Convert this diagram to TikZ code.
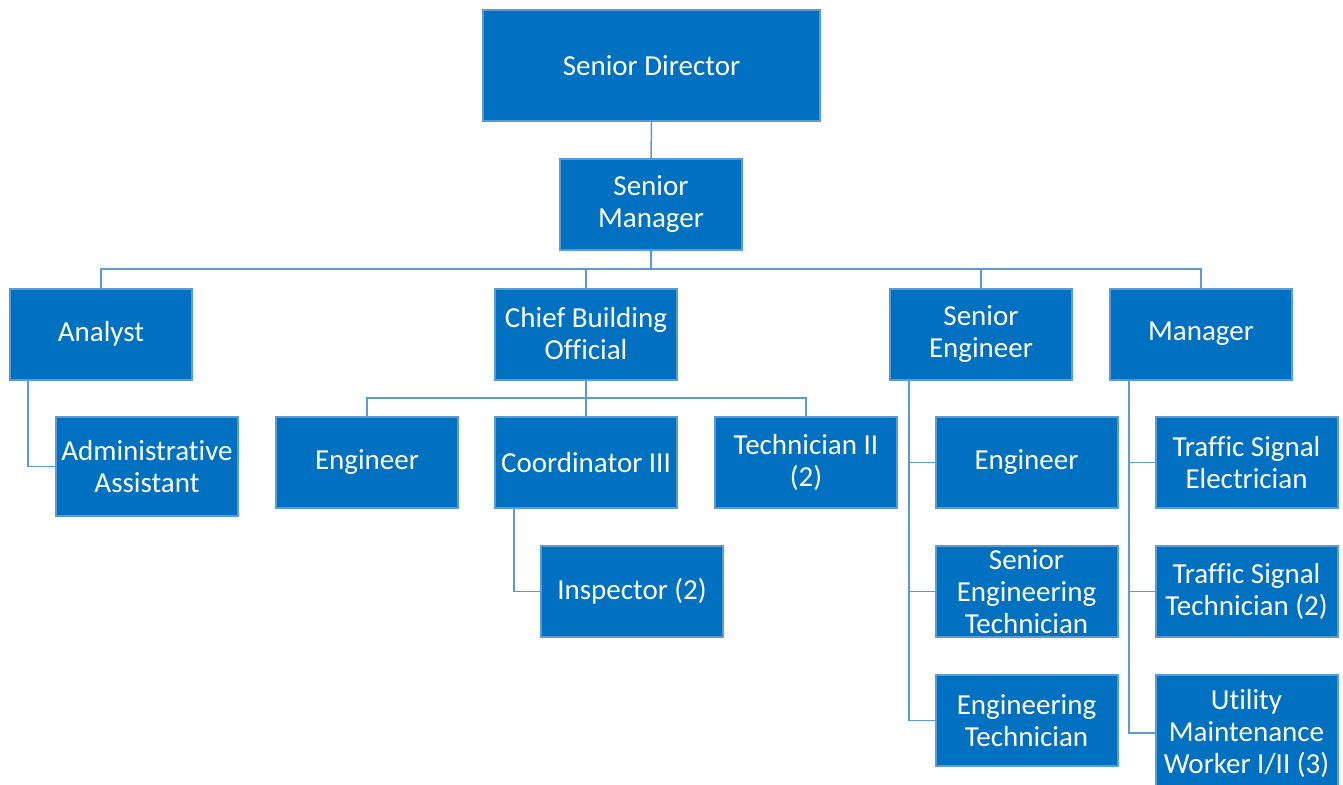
\documentclass[tikz,border=0pt]{standalone}
\usepackage{fontspec}
\setmainfont{Carlito}[Ligatures=CommonOff]
\definecolor{boxblue}{HTML}{0070C0}
\definecolor{edgeblue}{HTML}{5B9BD5}
\tikzset{
  post/.style={draw=edgeblue, fill=boxblue, line width=2pt, text=white,
    minimum width=182pt, minimum height=91pt, align=center, inner sep=1pt,
    font=\fontsize{29}{32}\selectfont},
  link/.style={draw=edgeblue, line width=1.5pt}
}
\begin{document}
\begin{tikzpicture}[x=1pt, y=-1pt]
    \useasboundingbox (0,0) rectangle (1343,784);

    % top of the tree
    \node[post, minimum width=337pt, minimum height=111pt] (dir) at (651.5,65.5) {Senior Director};
    \node[post] (sm) at (651,204.5) {Senior\\Manager};

    % second row
    \node[post] (analyst) at (101,334) {Analyst};
    \node[post] (cbo) at (586,334) {Chief Building\\Official};
    \node[post] (seng) at (981,334) {Senior\\Engineer};
    \node[post] (mgr) at (1201,334) {Manager};

    % under the analyst
    \node[post, minimum height=99pt] (admin) at (147,466.5) {Administrative\\Assistant};

    % under the chief building official
    \node[post] (eng1) at (367,462.5) {Engineer};
    \node[post] (coord) at (586,462.5) {Coordinator III};
    \node[post] (tech) at (806,462.5) {Technician II\\(2)};
    \node[post] (insp) at (632,591.5) {Inspector (2)};

    % under the senior engineer
    \node[post] (eng2) at (1026.5,462.5) {Engineer};
    \node[post] (set) at (1026.5,591.5) {Senior\\Engineering\\Technician};
    \node[post] (et) at (1026.5,720.5) {Engineering\\Technician};

    % under the manager
    \node[post] (tse) at (1246.5,462.5) {Traffic Signal\\Electrician};
    \node[post] (tst) at (1246.5,591.5) {Traffic Signal\\Technician (2)};
    \node[post, minimum height=116pt] (umw) at (1246.5,733) {Utility\\Maintenance\\Worker I/II (3)};

    % connectors
    \coordinate (bus1) at (651,269);
    \coordinate (bus2) at (586,398);

    \draw[link] (dir.south) -- (sm.north);
    \draw[link] (sm.south) -- (bus1);
    \draw[link] (analyst.north) |- (bus1) -| (mgr.north);
    \draw[link] (cbo.north) -- (cbo.north |- bus1);
    \draw[link] (seng.north) -- (seng.north |- bus1);

    \draw[link] ([xshift=-73pt]analyst.south) |- (admin.west);

    \draw[link] (cbo.south) -- (bus2);
    \draw[link] (eng1.north) |- (bus2) -| (tech.north);
    \draw[link] (coord.north) -- (bus2);
    \draw[link] ([xshift=-72pt]coord.south) |- (insp.west);

    \draw[link] ([xshift=-72pt]seng.south) |- (eng2.west);
    \draw[link] ([xshift=-72pt]seng.south) |- (set.west);
    \draw[link] ([xshift=-72pt]seng.south) |- (et.west);

    \draw[link] ([xshift=-72pt]mgr.south) |- (tse.west);
    \draw[link] ([xshift=-72pt]mgr.south) |- (tst.west);
    \draw[link] ([xshift=-72pt]mgr.south) |- (umw.west);
\end{tikzpicture}
\end{document}
